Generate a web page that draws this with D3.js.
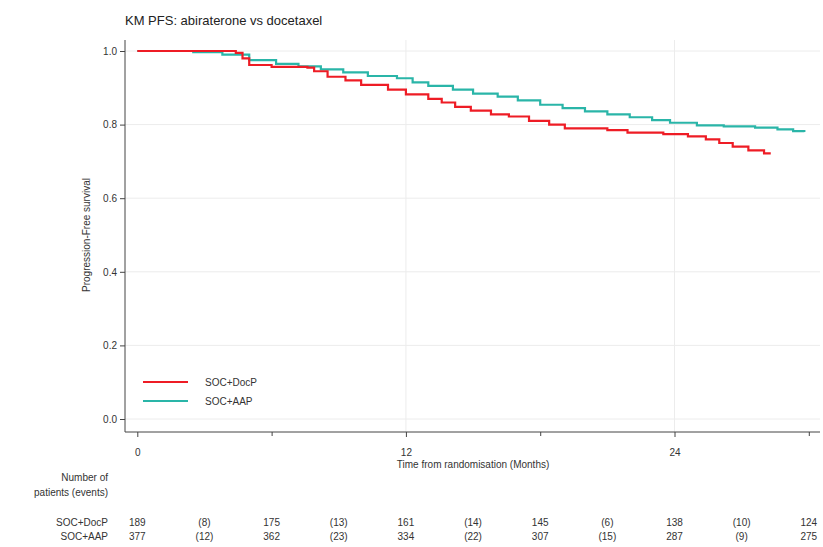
<!DOCTYPE html>
<html lang="en">
<head>
<meta charset="UTF-8">
<title>KM PFS</title>
<style>
    body { margin: 0; background: #fff; font-family: 'Liberation Sans', Arial, sans-serif; }
</style>
<script src="https://cdn.jsdelivr.net/npm/d3@7"></script>
</head>
<body>
<svg id="chart" width="823" height="547"></svg>
<script>
    // KM step points: [month, survival]
    var docpSteps = [[0,1],[4.4,0.995],[4.7,0.98],[5.0,0.962],[6.0,0.957],[7.6,0.955],[7.9,0.945],[8.5,0.93],[9.3,0.92],[10.0,0.908],[11.2,0.895],[12.0,0.882],[13.0,0.87],[13.6,0.86],[14.2,0.848],[14.9,0.838],[15.8,0.828],[16.6,0.822],[17.5,0.81],[18.4,0.8],[19.1,0.79],[21.0,0.785],[21.9,0.778],[23.5,0.774],[24.6,0.768],[25.4,0.76],[26.0,0.75],[26.6,0.74],[27.3,0.73],[28.0,0.722],[28.3,0.722]];
    var aapSteps = [[0,1],[2.5,0.997],[3.8,0.99],[5.0,0.975],[6.2,0.965],[7.2,0.958],[8.2,0.95],[9.2,0.942],[10.3,0.932],[11.6,0.926],[12.3,0.915],[13.0,0.905],[14.1,0.895],[15.0,0.884],[16.1,0.876],[17.0,0.866],[18.0,0.854],[19.0,0.845],[20.0,0.836],[21.0,0.828],[22.0,0.82],[23.0,0.812],[23.8,0.805],[25.0,0.798],[26.2,0.795],[27.6,0.792],[28.6,0.787],[29.3,0.782],[29.8,0.78]];
    var xTicks = [0, 12, 24];
    var xMinorTicks = [6, 18, 30];
    var yTicks = [0, 0.2, 0.4, 0.6, 0.8, 1.0];
    var riskTimes = [0, 3, 6, 9, 12, 15, 18, 21, 24, 27, 30];
    var riskDocP = ['189', '(8)', '175', '(13)', '161', '(14)', '145', '(6)', '138', '(10)', '124'];
    var riskAAP = ['377', '(12)', '362', '(23)', '334', '(22)', '307', '(15)', '287', '(9)', '275'];

    var svg = d3.select('#chart');
    var x = d3.scaleLinear().domain([-0.55, 30.5]).range([125, 820]);
    var y = d3.scaleLinear().domain([0, 1]).range([419, 51]);

    svg.append('text').attr('x', 125).attr('y', 25).attr('font-size', 13).attr('fill', '#222')
        .text('KM PFS: abiraterone vs docetaxel');

    // grid
    svg.append('g').selectAll('line').data(yTicks).enter().append('line')
        .attr('x1', 125).attr('x2', 820).attr('y1', d => y(d)).attr('y2', d => y(d))
        .attr('stroke', '#ececec');
    svg.append('g').selectAll('line').data(xTicks.slice(1)).enter().append('line')
        .attr('x1', d => x(d)).attr('x2', d => x(d)).attr('y1', 40).attr('y2', 432)
        .attr('stroke', '#ececec');

    // axes
    var yAxis = svg.append('g').attr('transform', 'translate(125,0)')
        .call(d3.axisLeft(y).tickValues(yTicks).tickFormat(d3.format('.1f')).tickSize(5).tickSizeOuter(0));
    yAxis.select('.domain').attr('d', 'M0,40V432');
    var xAxis = svg.append('g').attr('transform', 'translate(0,432)')
        .call(d3.axisBottom(x).tickValues(xTicks).tickSize(5).tickSizeOuter(0).tickPadding(12));
    xAxis.select('.domain').attr('d', 'M125,0H820');
    svg.append('g').attr('transform', 'translate(0,432)')
        .call(d3.axisBottom(x).tickValues(xMinorTicks).tickSize(4).tickFormat(''))
        .select('.domain').remove();
    svg.selectAll('.tick text').attr('font-size', 10).attr('fill', '#333')
        .attr('font-family', "'Liberation Sans', Arial, sans-serif");
    svg.selectAll('.domain, .tick line').attr('stroke', '#444');

    svg.append('text').attr('transform', 'translate(90,235) rotate(-90)').attr('text-anchor', 'middle')
        .attr('font-size', 10).attr('fill', '#333').text('Progression-Free survival');
    svg.append('text').attr('x', x(15)).attr('y', 468).attr('text-anchor', 'middle')
        .attr('font-size', 10).attr('fill', '#333').text('Time from randomisation (Months)');

    // curves
    var line = d3.line().x(d => x(d[0])).y(d => y(d[1])).curve(d3.curveStepAfter);
    svg.append('path').datum(aapSteps).attr('d', line).attr('fill', 'none')
        .attr('stroke', '#2ab5a8').attr('stroke-width', 2.2);
    svg.append('path').datum(docpSteps).attr('d', line).attr('fill', 'none')
        .attr('stroke', '#ee1c25').attr('stroke-width', 2.2);

    // legend
    var legend = [['SOC+DocP', '#ee1c25'], ['SOC+AAP', '#2ab5a8']];
    legend.forEach(function (l, i) {
        var ly = 382 + i * 19;
        svg.append('line').attr('x1', 143).attr('x2', 188).attr('y1', ly).attr('y2', ly)
            .attr('stroke', l[1]).attr('stroke-width', 2.2);
        svg.append('text').attr('x', 205).attr('y', ly + 4).attr('font-size', 10).attr('fill', '#333').text(l[0]);
    });

    // risk table
    svg.append('text').attr('x', 108).attr('y', 481).attr('text-anchor', 'end').attr('font-size', 10)
        .attr('fill', '#333').text('Number of');
    svg.append('text').attr('x', 108).attr('y', 496).attr('text-anchor', 'end').attr('font-size', 10)
        .attr('fill', '#333').text('patients (events)');
    [['SOC+DocP', riskDocP, 526], ['SOC+AAP', riskAAP, 540]].forEach(function (r) {
        svg.append('text').attr('x', 108).attr('y', r[2]).attr('text-anchor', 'end')
            .attr('font-size', 10).attr('fill', '#333').text(r[0]);
        svg.append('g').selectAll('text').data(r[1]).enter().append('text')
            .attr('x', (d, i) => x(riskTimes[i])).attr('y', r[2]).attr('text-anchor', 'middle')
            .attr('font-size', 10).attr('fill', '#333').text(d => d);
    });
</script>
</body>
</html>
